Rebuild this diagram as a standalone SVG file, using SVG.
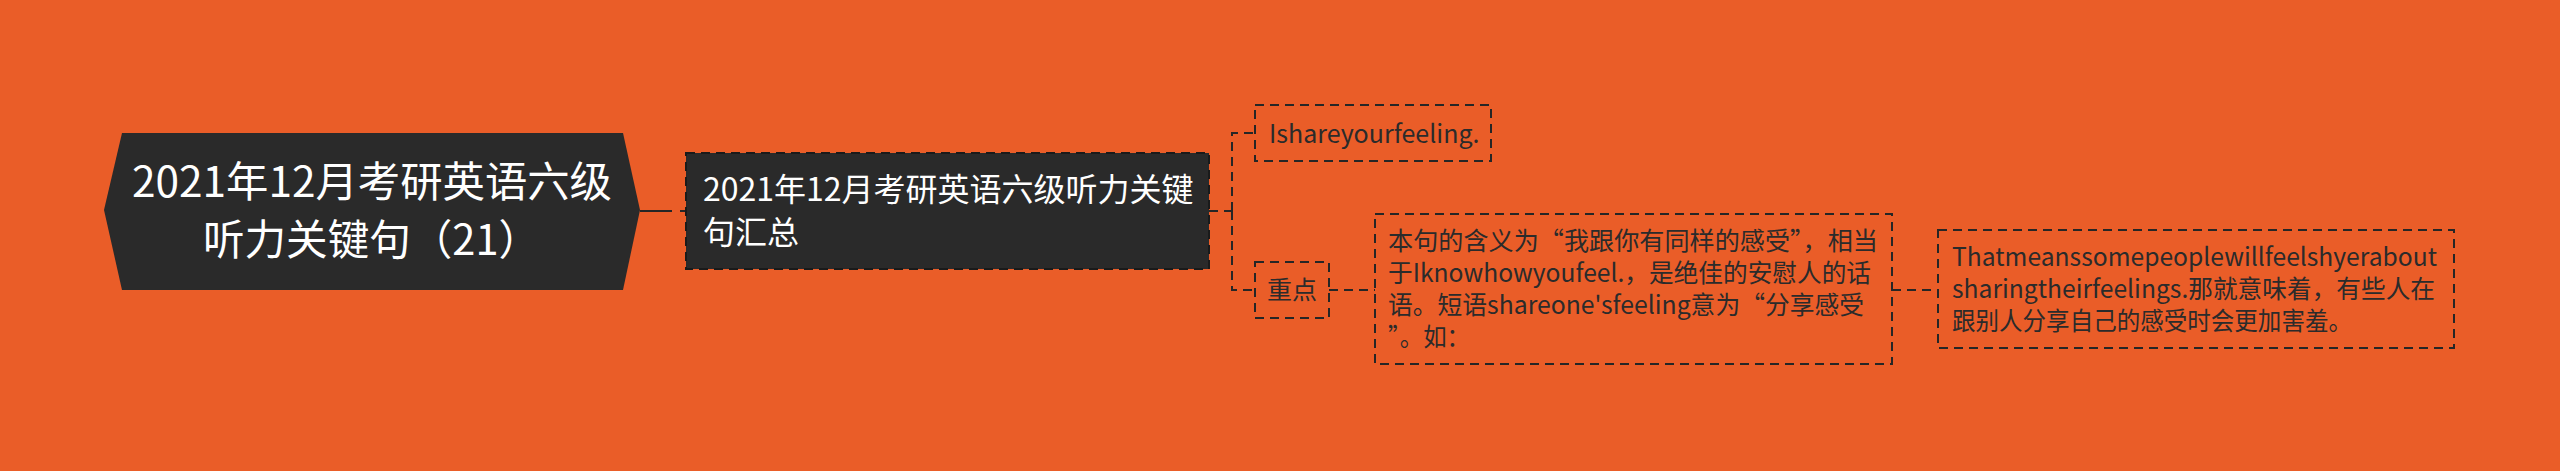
<svg xmlns="http://www.w3.org/2000/svg" width="2560" height="471" viewBox="0 0 2560 471">
<style>
.t{font-family:"Noto Sans CJK SC","Noto Sans",sans-serif;}
.w{fill:#ffffff;}
.d{fill:#2b2b2b;}
.box{fill:none;stroke:#262626;stroke-width:2;stroke-dasharray:9 6;}
.dark{fill:#2a2a2a;stroke:#1a1a1a;stroke-width:2;stroke-dasharray:9 6;}
.c{fill:none;stroke:#262626;stroke-width:2;stroke-dasharray:9 6;}
</style>
<rect width="2560" height="471" fill="#EA5D28"/>
<g id="connectors">
<path d="M640 211 H686" fill="none" stroke="#262626" stroke-width="2" stroke-dasharray="32 8 6 100"/>
<path class="c" d="M1209 211 H1232"/>
<path class="c" d="M1232 211 V133 H1255"/>
<path class="c" d="M1232 211 V290 H1255"/>
<path class="c" d="M1329 290 H1375"/>
<path class="c" d="M1892 290 H1938"/>
</g>
<g id="root">
<polygon points="104,210 122,133 623,133 640,210 623,290 122,290" fill="#2a2a2a"/>
<text class="t w" x="132" y="197" font-size="42" textLength="480" lengthAdjust="spacingAndGlyphs">2021年12月考研英语六级</text>
<text class="t w" x="203" y="255" font-size="42" textLength="337" lengthAdjust="spacingAndGlyphs">听力关键句（21）</text>
</g>
<g id="node-summary">
<rect class="dark" x="686" y="153" width="523" height="116"/>
<text class="t w" x="703" y="201" font-size="32">2021年12月考研英语六级听力关键</text>
<text class="t w" x="703" y="244" font-size="32">句汇总</text>
</g>
<g id="node-sentence">
<rect class="box" x="1255" y="105" width="236" height="56"/>
<text class="t d" x="1269" y="143" font-size="25">Ishareyourfeeling.</text>
</g>
<g id="node-key">
<rect class="box" x="1255" y="262" width="74" height="56"/>
<text class="t d" x="1267" y="299" font-size="25">重点</text>
</g>
<g id="node-explain">
<rect class="box" x="1375" y="214" width="517" height="150"/>
<text class="t d" x="1388" y="250" font-size="25" textLength="490" lengthAdjust="spacingAndGlyphs">本句的含义为“我跟你有同样的感受”，相当</text>
<text class="t d" x="1388" y="282" font-size="25" textLength="483" lengthAdjust="spacingAndGlyphs">于Iknowhowyoufeel.，是绝佳的安慰人的话</text>
<text class="t d" x="1388" y="314" font-size="25" textLength="476" lengthAdjust="spacingAndGlyphs">语。短语shareone'sfeeling意为“分享感受</text>
<text class="t d" x="1388" y="346" font-size="25" textLength="82" lengthAdjust="spacingAndGlyphs">”。如：</text>
</g>
<g id="node-example">
<rect class="box" x="1938" y="230" width="516" height="118"/>
<text class="t d" x="1952" y="266" font-size="25" textLength="485" lengthAdjust="spacingAndGlyphs">Thatmeanssomepeoplewillfeelshyerabout</text>
<text class="t d" x="1952" y="298" font-size="25" textLength="483" lengthAdjust="spacingAndGlyphs">sharingtheirfeelings.那就意味着，有些人在</text>
<text class="t d" x="1952" y="330" font-size="25" textLength="400" lengthAdjust="spacingAndGlyphs">跟别人分享自己的感受时会更加害羞。</text>
</g>
</svg>
